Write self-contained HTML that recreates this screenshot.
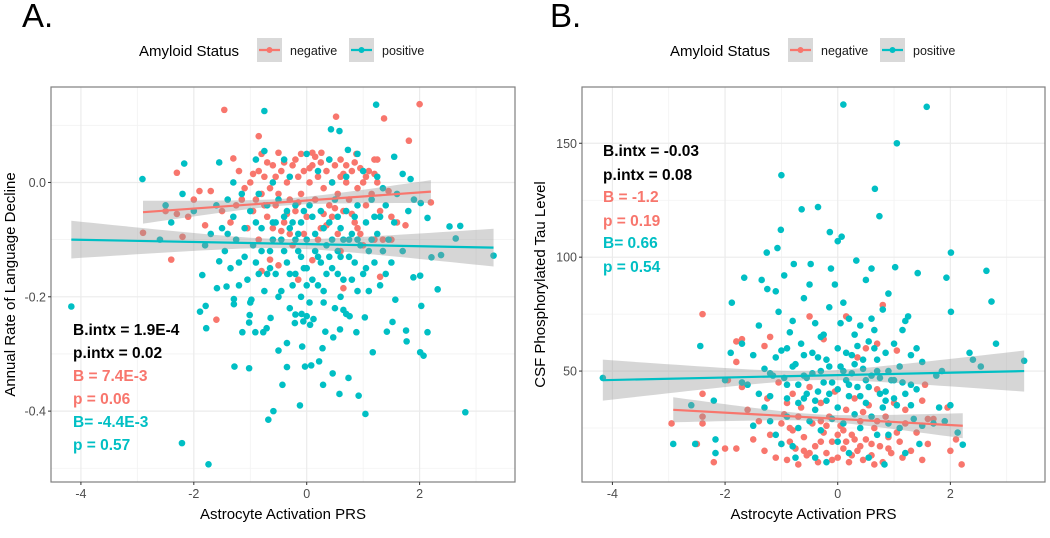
<!DOCTYPE html>
<html><head><meta charset="utf-8">
<style>
html,body{margin:0;padding:0;background:#fff;}
svg{display:block;font-family:"Liberation Sans",Arial,sans-serif;}
</style></head>
<body>
<svg id="chart" width="1050" height="538" viewBox="0 0 1050 538" xmlns="http://www.w3.org/2000/svg">
  <text x="22" y="27" font-size="33" fill="#000">A.</text>
  <text x="550" y="27" font-size="33" fill="#000">B.</text>
  <g id="pa"></g>
  <g id="pb"></g>
</svg>
<script>
// ---------- Panel A data (x = Astrocyte Activation PRS, y = annual rate) ----------
const aXTicks = [-4, -2, 0, 2];
const aYTicks = [0.0, -0.2, -0.4];
const aYTickLabels = ["0.0", "-0.2", "-0.4"];
const aNeg = [[-1.46,0.127],[0.52,0.115],[2.0,0.137],[1.37,0.112],[-0.85,0.081],[1.81,0.073],[-0.5,0.052],[0.1,0.052],[0.26,0.052],[0.6,0.04],[0.88,0.05],[1.2,0.04],[1.25,0.04],[-1.3,0.042],[-0.8,0.05],[-2.3,0.017],[-2.9,-0.088],[-2.2,-0.095],[-2.4,-0.135],[-1.6,-0.24],[-0.15,-0.17],[0.1,-0.136],[0.65,-0.185],[1.3,-0.165],[-0.65,-0.135],[-0.5,-0.145],[-0.8,-0.155],[-1.8,-0.075],[-1.9,-0.015],[-2.0,-0.03],[-1.7,-0.015],[-2.1,-0.06],[-2.5,-0.05],[-2.3,-0.055],[-1.5,-0.05],[1.5,-0.1],[1.6,-0.07],[1.75,-0.075],[2.2,-0.035],[1.35,-0.1],[1.2,-0.1],[0.9,-0.08],[1.45,-0.015],[1.5,-0.06],
[-1.2,0.02],[-1.1,-0.01],[-1.0,0.0],[-0.95,-0.05],[-0.9,-0.03],[-0.85,0.02],[-0.8,-0.02],[-0.75,0.01],[-0.7,-0.06],[-0.65,-0.01],[-0.6,0.03],[-0.55,-0.04],[-0.5,-0.02],[-0.45,0.02],[-0.4,-0.07],[-0.35,0.0],[-0.3,-0.03],[-0.25,0.03],[-0.2,-0.05],[-0.15,0.01],[-0.1,-0.02],[-0.05,0.02],[0.0,-0.06],[0.05,0.0],[0.1,0.03],[0.15,-0.03],[0.2,0.01],[0.25,-0.08],[0.3,-0.01],[0.35,0.02],[0.4,-0.04],[0.45,0.0],[0.5,0.03],[0.55,-0.02],[0.6,0.01],[0.65,-0.05],[0.7,0.0],[0.75,-0.03],[0.8,0.02],[0.85,-0.07],[0.9,-0.01],[1.0,0.0],[1.05,-0.04],[1.1,0.02],[1.15,-0.02],[1.25,0.0],[1.3,-0.05],[-1.25,-0.04],[-1.35,-0.07],[-0.6,-0.08],[-0.3,-0.09],[0.2,-0.1],[0.45,-0.06],[0.95,-0.09],[-0.85,-0.1],[-0.2,0.04],[0.4,0.04],[0.7,0.03],[-0.05,-0.09],[0.55,-0.09],[-1.05,-0.08],[0.15,0.045],[-0.4,0.035],[0.85,0.035],[0.3,-0.055],[-0.7,0.035],[-0.1,0.05],[1.0,-0.11],[0.6,-0.12],[-0.25,-0.11],
[-0.95,0.015],[-0.55,0.01],[-0.15,-0.035],[0.25,0.035],[0.65,0.015],[1.05,0.01],[-0.35,-0.055],[0.05,0.025],[0.5,-0.045],[0.95,0.025],[-0.75,-0.04],[0.35,-0.075],[-1.15,-0.03],[0.8,-0.055],[1.2,0.015],[-0.45,-0.085]];
const aPos = [[-4.17,-0.217],[-2.91,0.006],[-2.17,0.033],[-0.75,0.125],[1.23,0.136],[0.43,0.093],[0.58,0.09],[0.73,0.057],[-2.21,-0.456],[-1.74,-0.493],[-0.68,-0.415],[-0.59,-0.4],[-0.12,-0.39],[1.04,-0.405],[2.81,-0.402],[0.92,-0.373],[0.58,-0.37],[0.29,-0.354],[-0.43,-0.354],[-1.28,-0.322],[-1.02,-0.325],[-0.35,-0.323],[-0.03,-0.322],[0.08,-0.32],[0.22,-0.313],[0.46,-0.334],[0.74,-0.342],[-0.5,-0.294],[-0.35,-0.281],[-0.08,-0.287],[0.28,-0.29],[1.17,-0.297],[2.01,-0.297],[2.07,-0.303],[2.14,-0.262],[1.76,-0.259],[1.77,-0.278],[1.42,-0.261],[1.52,-0.244],[2.03,-0.216],[1.57,-0.205],[2.32,-0.187],[2.01,-0.163],[1.89,-0.166],[2.21,-0.131],[2.38,-0.127],[3.31,-0.128],[2.53,-0.077],[2.72,-0.076],[2.64,-0.098],[2.14,-0.062],[2.02,-0.036],[1.84,0.006],[-1.85,-0.162],[-1.89,-0.226],[-1.79,-0.216],[-1.78,-0.255],[-1.59,-0.185],[-1.55,-0.138],[-1.14,-0.262],[-0.91,-0.262],[-0.77,-0.262],[-0.71,-0.255],[-1.02,-0.245],[-1.01,-0.232],[-0.98,-0.205],[-0.64,-0.237],[-1.29,-0.213],[-1.29,-0.204],[-1.42,-0.182],[0.88,-0.262],[0.47,-0.271],[0.33,-0.261],[0.59,-0.257],[-0.09,-0.23],[-0.06,-0.243],[0.0,-0.234],[0.06,-0.249],[0.12,-0.239],[1.03,-0.236],[0.76,-0.234],[0.65,-0.223],[-0.2,-0.231],[-0.21,-0.246],
[-1.6,-0.04],[-1.5,-0.08],[-1.45,-0.12],[-1.4,-0.03],[-1.35,-0.15],[-1.3,-0.06],[-1.25,-0.1],[-1.2,-0.14],[-1.15,-0.02],[-1.1,-0.08],[-1.05,-0.17],[-1.0,-0.05],[-0.95,-0.11],[-0.9,-0.14],[-0.85,-0.02],[-0.8,-0.08],[-0.75,-0.19],[-0.7,-0.04],[-0.65,-0.12],[-0.6,-0.07],[-0.55,-0.16],[-0.5,-0.03],[-0.45,-0.1],[-0.4,-0.06],[-0.35,-0.14],[-0.3,-0.08],[-0.25,-0.18],[-0.2,-0.04],[-0.15,-0.12],[-0.1,-0.07],[-0.05,-0.15],[0.0,-0.1],[0.05,-0.04],[0.1,-0.17],[0.15,-0.09],[0.2,-0.13],[0.25,-0.05],[0.3,-0.19],[0.35,-0.11],[0.4,-0.07],[0.45,-0.15],[0.5,-0.03],[0.55,-0.12],[0.6,-0.08],[0.65,-0.17],[0.7,-0.05],[0.75,-0.13],[0.8,-0.09],[0.85,-0.14],[0.9,-0.04],[0.95,-0.11],[1.0,-0.16],[1.05,-0.07],[1.1,-0.12],[1.15,-0.03],[1.2,-0.14],[1.25,-0.09],[1.3,-0.06],[1.35,-0.12],[1.4,-0.04],[1.45,-0.1],[1.5,-0.14],[1.55,-0.07],[1.6,-0.02],[1.7,-0.12],[1.8,-0.05],[1.9,-0.03],[-1.8,-0.11],[-2.0,-0.05],[-2.2,-0.02],[-2.4,-0.07],[-2.6,-0.1],[-2.5,-0.04],[-1.7,-0.09],
[-0.9,0.04],[-0.75,0.055],[-0.6,0.0],[-0.3,0.01],[0.0,0.05],[0.2,0.02],[0.45,0.0],[0.7,0.01],[1.0,0.02],[1.25,0.01],[1.55,0.045],[1.7,0.015],[-1.3,0.0],[-0.4,0.04],[0.4,0.04],[-1.55,0.035],[0.9,0.05],[1.35,-0.01],
[-0.5,-0.2],[-0.1,-0.2],[0.3,-0.21],[0.6,-0.2],[0.9,-0.19],[-1.0,-0.21],[-0.3,-0.22],[0.05,-0.21],[0.5,-0.22],[1.1,-0.19],[-0.7,-0.16],[0.2,-0.18],[0.8,-0.17],[-0.2,-0.16],[1.3,-0.18],[-1.2,-0.18],[-0.45,-0.19],[0.7,-0.23],
[-0.8,-0.12],[-0.2,-0.1],[0.3,-0.08],[0.9,-0.1],[-0.55,-0.07],[0.1,-0.06],[0.6,-0.13],[-1.1,-0.13],[1.2,-0.06],[-0.1,-0.13],[0.45,-0.1],[-0.65,-0.15],[1.05,-0.15],[0.0,-0.15],[-0.35,-0.05],[0.75,-0.1],[-0.9,-0.07],[0.25,-0.14],[-0.15,-0.09],[0.55,-0.06],
[-0.4,-0.12],[-0.25,-0.07],[0.15,-0.12],[0.35,-0.16],[0.65,-0.1],[0.85,-0.06],[-0.6,-0.1],[-0.05,-0.05],[0.4,-0.13],[1.15,-0.1],[-0.85,-0.16],[1.4,-0.16],[-1.4,-0.09],[0.0,-0.18],[-0.3,-0.16],[0.55,-0.16]];
// fitted lines: [x0, y0, x1, y1]
const aNegFit = [-2.9, -0.052, 2.2, -0.016];
const aPosFit = [-4.17, -0.100, 3.31, -0.114];

// ---------- Panel B data (y = CSF p-tau) ----------
const bXTicks = [-4, -2, 0, 2];
const bYTicks = [50, 100, 150];
const bYTickLabels = ["50", "100", "150"];
const bNeg = [[-2.4,75],[-0.5,74],[0.15,74],[0.8,79],[1.05,59],[-1.2,65],[-0.25,64],[-1.8,63],[-1.7,64],[-1.8,54],[-1.3,61],[0.35,56],[0.5,60],[0.7,62],[-2.95,27],[-2.5,18],[-2.0,16],[-2.2,10],[-1.8,16],[-2.4,40],[-2.4,30],[-2.4,27],[2.2,9],[2.0,15],[2.1,20],[1.5,37],[1.55,44],[1.95,34],[1.6,29],[1.7,29],[-1.95,46],[-1.7,43],
[-1.5,20],[-1.4,28],[-1.3,15],[-1.25,38],[-1.2,22],[-1.1,12],[-1.05,45],[-1.0,18],[-0.95,31],[-0.9,11],[-0.85,25],[-0.8,40],[-0.75,16],[-0.7,9],[-0.65,34],[-0.6,21],[-0.55,13],[-0.5,43],[-0.45,27],[-0.4,17],[-0.35,10],[-0.3,36],[-0.25,23],[-0.2,14],[-0.15,30],[-0.1,19],[-0.05,41],[0.0,12],[0.05,26],[0.1,16],[0.15,33],[0.2,10],[0.25,22],[0.3,38],[0.35,15],[0.4,28],[0.45,11],[0.5,20],[0.55,35],[0.6,13],[0.65,25],[0.7,42],[0.75,17],[0.8,10],[0.85,30],[0.9,21],[0.95,14],[1.0,36],[1.1,19],[1.15,12],[1.2,27],[1.3,15],[1.4,23],[1.5,11],[1.6,18],[-1.6,33],[-0.8,24],[-0.3,19],[0.1,24],[0.6,18],[-0.6,15],[0.3,20],[-1.0,27],[0.9,16],[-0.2,26],[0.45,32],[-0.9,36],[1.2,33],[0.0,22],[0.7,28],
[-0.5,14],[-0.1,11],[0.25,13],[0.65,9],[-0.85,19],[0.4,17],[-0.3,28],[0.15,19],[1.05,23],[-0.7,30]];
const bPos = [[0.1,167],[1.58,166],[1.05,150],[-1.0,136],[0.66,130],[0.74,118],[-0.35,122],[-0.64,121],[-1.01,112],[-0.14,111],[0.07,109],[0.0,107],[-1.07,104],[-1.26,102],[2.01,102],[0.33,98.5],[1.02,95.6],[0.6,95],[2.64,94],[-0.78,97],[-0.48,97],[-1.66,91],[1.93,91],[1.42,93],[-0.12,95],[2.73,80.5],[2.81,62],[-2.44,61],[2.01,76],[-1.88,80],[2.34,58],[2.4,55],[3.31,54.5],[2.54,52],[-4.17,47],[-2.92,18],[-2.53,18],[-2.17,20],[-2.17,14],[0.83,9],[2.22,17.7],[2.13,23],[-2.6,35],[-2.2,37],[1.8,34],[1.9,28],[2.0,35],[1.75,48],[1.85,50],[1.3,57],[1.5,54],[1.2,72],[1.25,74],[1.4,60],[1.15,68],
[-1.7,62],[-1.6,44],[-1.5,57],[-1.4,70],[-1.35,90],[-1.3,51],[-1.25,86],[-1.2,39],[-1.15,48],[-1.1,85],[-1.05,76],[-1.0,59],[-0.95,92],[-0.9,44],[-0.85,67],[-0.8,72],[-0.75,53],[-0.7,36],[-0.65,62],[-0.6,82],[-0.55,47],[-0.5,88],[-0.45,58],[-0.4,71],[-0.35,41],[-0.3,50],[-0.25,66],[-0.2,55],[-0.15,78],[-0.1,45],[-0.05,88],[0.0,60],[0.05,52],[0.1,80],[0.15,46],[0.2,73],[0.25,57],[0.3,66],[0.35,43],[0.4,70],[0.45,51],[0.5,90],[0.55,63],[0.6,48],[0.65,68],[0.7,55],[0.75,40],[0.8,77],[0.85,58],[0.9,84],[0.95,46],[1.0,62],[1.05,35],[1.1,52],[1.2,40],[1.3,44],[1.35,29],
[-1.5,26],[-1.3,34],[-1.1,22],[-0.9,30],[-0.8,17],[-0.7,25],[-0.6,38],[-0.5,28],[-0.4,33],[-0.3,24],[-0.2,37],[-0.1,29],[0.0,34],[0.1,27],[0.2,39],[0.3,31],[0.4,25],[0.5,36],[0.6,30],[0.7,22],[0.8,34],[0.9,27],[1.0,38],[1.1,25],[1.3,35],[1.5,26],[1.7,27],[-1.0,18],[-0.4,12],[0.2,14],[0.55,12],[-0.75,12],[1.2,14],[0.0,19],[-0.2,10],[0.9,22],[1.45,18],[-1.2,28],
[-0.9,60],[-0.6,57],[-0.3,65],[0.05,71],[0.35,61],[0.6,73],[0.9,50],[-0.15,52],[0.45,55],[0.75,47],[-0.45,49],[0.25,49],[-0.7,44],[0.15,58],[-1.1,56],[0.65,60],[-0.95,47],[0.55,43],[-0.25,45],[0.85,41],[-0.55,40],[1.0,46],[1.4,42],[-1.4,40],[-1.7,45],[-1.9,58],[-2.0,46],
[-0.8,52],[-0.35,56],[0.1,50],[0.3,53],[0.7,50],[-0.6,48],[0.2,44],[0.5,46],[-0.15,40],[0.85,37],[-0.4,37],[0.0,42],[-1.2,49],[1.15,45],[-0.9,38],[0.4,39]];
const bNegFit = [-2.92, 33, 2.22, 26];
const bPosFit = [-4.17, 46, 3.31, 50];

const NS = "http://www.w3.org/2000/svg";
const RED = "#F8766D", TEAL = "#00BFC4";
function mk(tag, attrs, parent){ const e=document.createElementNS(NS,tag); for(const k in attrs) e.setAttribute(k,attrs[k]); parent.appendChild(e); return e; }

function drawPanel(g, cfg){
  const {L,R,T,B,xmin,xmax,ymin,ymax} = cfg;
  const sx = v => L + (v - xmin)/(xmax - xmin)*(R - L);
  const sy = v => B - (v - ymin)/(ymax - ymin)*(B - T);
  mk("rect",{x:L,y:T,width:R-L,height:B-T,fill:"#fff"},g);
  cfg.xMinor.forEach(v=>{ mk("line",{x1:sx(v),x2:sx(v),y1:T,y2:B,stroke:"#F2F2F2","stroke-width":0.8},g); });
  cfg.yMinor.forEach(v=>{ mk("line",{x1:L,x2:R,y1:sy(v),y2:sy(v),stroke:"#F2F2F2","stroke-width":0.8},g); });
  cfg.xTicks.forEach(v=>{ mk("line",{x1:sx(v),x2:sx(v),y1:T,y2:B,stroke:"#EBEBEB","stroke-width":1.2},g); });
  cfg.yTicks.forEach(v=>{ mk("line",{x1:L,x2:R,y1:sy(v),y2:sy(v),stroke:"#EBEBEB","stroke-width":1.2},g); });
  cfg.neg.forEach(p=>{
    const c = mk("circle",{cx:sx(p[0]),cy:sy(p[1]),r:3.3,fill:RED},g);
    
    
  });
  cfg.pos.forEach(p=>{
    const c = mk("circle",{cx:sx(p[0]),cy:sy(p[1]),r:3.3,fill:TEAL},g);
    
    
  });
  [[cfg.negFit,RED,cfg.negBand,'negative'],[cfg.posFit,TEAL,cfg.posBand,'positive']].forEach(([f,col,band,nm])=>{
    const [x0,y0,x1,y1]=f; const xm=(x0+x1)/2;
    const fy = x => y0 + (y1-y0)*(x-x0)/(x1-x0);
    const hw = x => Math.sqrt(band[0]*band[0] + (band[1]*band[1]-band[0]*band[0])*Math.pow((x-xm)/((x1-x0)/2),2));
    const up=[], dn=[];
    for(let i=0;i<=40;i++){ const x=x0+(x1-x0)*i/40; up.push(sx(x)+","+sy(fy(x)+hw(x))); dn.unshift(sx(x)+","+sy(fy(x)-hw(x))); }
    const rb = mk("polygon",{points:up.concat(dn).join(" "),fill:"#999999","fill-opacity":0.4},g);
    
    
    const ln = mk("line",{x1:sx(x0),y1:sy(y0),x2:sx(x1),y2:sy(y1),stroke:col,"stroke-width":2.2},g);
    
    
  });
  mk("rect",{x:L,y:T,width:R-L,height:B-T,fill:"none",stroke:"#7f7f7f","stroke-width":1.2},g);
  cfg.xTicks.forEach(v=>{
    mk("line",{x1:sx(v),x2:sx(v),y1:B,y2:B+3,stroke:"#333"},g);
    const t=mk("text",{x:sx(v),y:B+16,"text-anchor":"middle","font-size":12.5,fill:"#4D4D4D"},g); t.textContent=String(v);
    
    
  });
  cfg.yTicks.forEach((v,i)=>{
    mk("line",{x1:L-3,x2:L,y1:sy(v),y2:sy(v),stroke:"#333"},g);
    const t=mk("text",{x:L-5,y:sy(v)+4.5,"text-anchor":"end","font-size":12.5,fill:"#4D4D4D"},g); t.textContent=cfg.yLabels[i];
    
    
  });
  const xt=mk("text",{x:(L+R)/2,y:B+37,"text-anchor":"middle","font-size":15,fill:"#000"},g); xt.textContent="Astrocyte Activation PRS";
  
  
  const yt=mk("text",{x:0,y:0,"text-anchor":"middle","font-size":15,fill:"#000",transform:`translate(${cfg.yTitleX},${(T+B)/2}) rotate(-90)`},g); yt.textContent=cfg.yTitle;
  
  
  const lx=cfg.legX;
  const lt=mk("text",{x:lx,y:56,"font-size":15,fill:"#000"},g); lt.textContent="Amyloid Status";
  
  
  [[lx+118,RED,"negative"],[lx+210,TEAL,"positive"]].forEach(([kx,col,lab])=>{
    const r=mk("rect",{x:kx,y:38,width:25,height:24,fill:"#D9D9D9"},g);
    
    
    mk("line",{x1:kx+2,x2:kx+23,y1:50,y2:50,stroke:col,"stroke-width":2.2},g);
    mk("circle",{cx:kx+12.5,cy:50,r:3,fill:col},g);
    const tx=mk("text",{x:kx+33,y:55,"font-size":12.5,fill:"#1a1a1a"},g); tx.textContent=lab;
    
    
  });
  cfg.notes.forEach((n,i)=>{
    const t=mk("text",{x:cfg.noteX,y:cfg.noteY[i],"font-size":15.5,"font-weight":"bold",fill:n[1]},g); t.textContent=n[0];
    
    
  });
}

drawPanel(document.getElementById("pa"),{
  L:51,R:515,T:87,B:482,xmin:-4.53,xmax:3.69,ymin:-0.524,ymax:0.167,
  xTicks:aXTicks,yTicks:aYTicks,yLabels:aYTickLabels,xMinor:[-3,-1,1,3],yMinor:[0.1,-0.1,-0.3,-0.5],
  neg:aNeg,pos:aPos,negFit:aNegFit,posFit:aPosFit,negBand:[0.006,0.02],posBand:[0.008,0.033],
  yTitle:"Annual Rate of Language Decline",yTitleX:15,legX:139,
  noteX:73,noteY:[335,358,381,404,427,450],
  notes:[["B.intx = 1.9E-4","#000"],["p.intx = 0.02","#000"],["B = 7.4E-3",RED],["p = 0.06",RED],["B= -4.4E-3",TEAL],["p = 0.57",TEAL]]
});
drawPanel(document.getElementById("pb"),{
  L:582,R:1045,T:87,B:482,xmin:-4.54,xmax:3.68,ymin:1.3,ymax:174.7,
  xTicks:bXTicks,yTicks:bYTicks,yLabels:bYTickLabels,xMinor:[-3,-1,1,3],yMinor:[25,75,125],
  neg:bNeg,pos:bPos,negFit:bNegFit,posFit:bPosFit,negBand:[1.5,5.5],posBand:[2,9],
  yTitle:"CSF Phosphorylated Tau Level",yTitleX:545,legX:670,
  noteX:603,noteY:[156,180,202,226,248,272],
  notes:[["B.intx = -0.03","#000"],["p.intx = 0.08","#000"],["B = -1.2",RED],["p = 0.19",RED],["B= 0.66",TEAL],["p = 0.54",TEAL]]
});
</script>
</body></html>
